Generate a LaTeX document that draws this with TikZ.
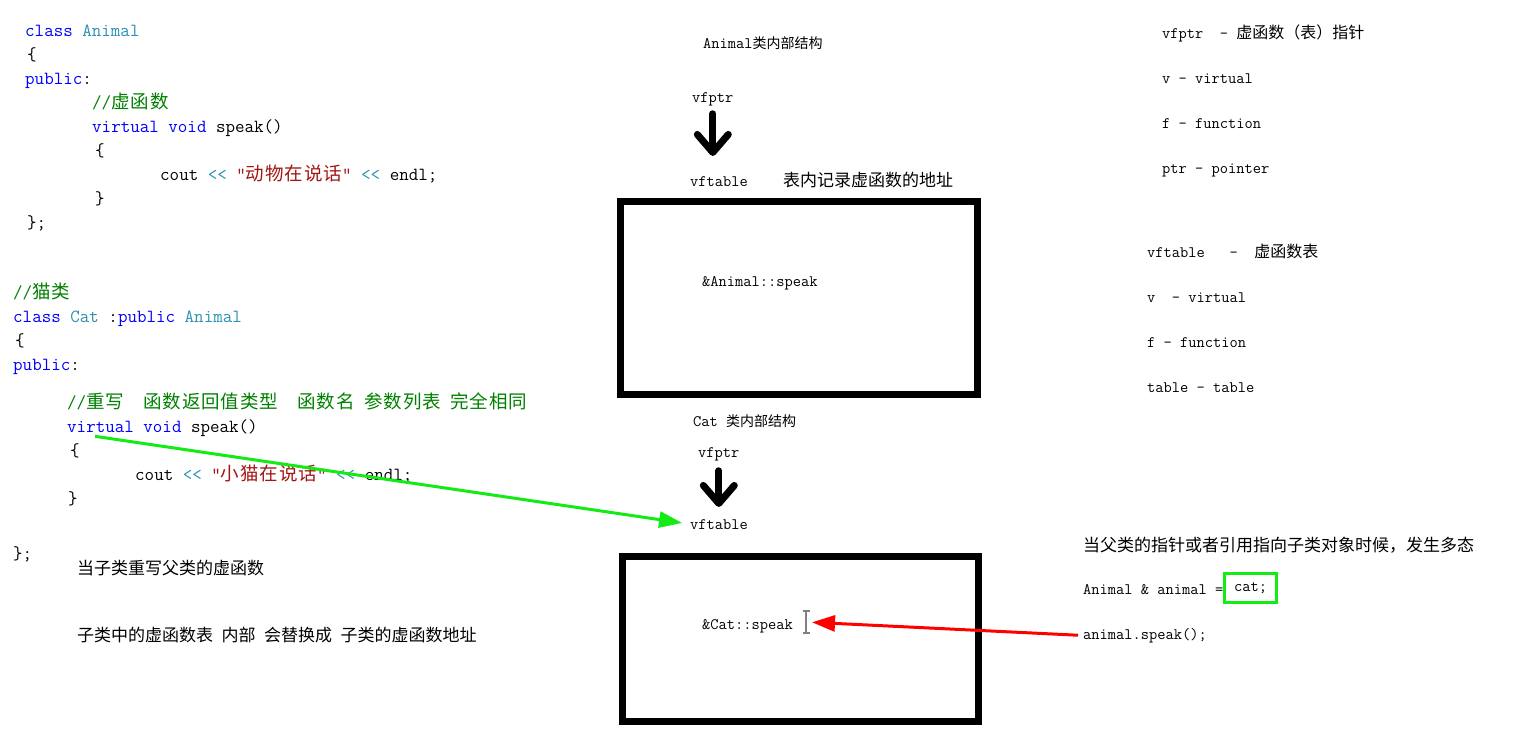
\documentclass[tikz,border=0pt]{standalone}
\usepackage{fontspec}
\newfontfamily\cjk{Noto Sans CJK SC}
\newfontfamily\cjkcode{Noto Sans CJK SC}[LetterSpace=5]
\usetikzlibrary{arrows.meta}

\definecolor{kwblue}{RGB}{0,0,255}
\definecolor{typeteal}{RGB}{43,145,175}
\definecolor{cmtgreen}{RGB}{0,128,0}
\definecolor{strred}{RGB}{163,21,21}
\definecolor{hlgreen}{RGB}{20,235,20}

\newcommand\zh[1]{{\cjk #1}}
\newcommand\zc[1]{{\cjkcode #1}}
\newcommand\zhs[1]{{\cjk\fontsize{14}{17}\selectfont #1}}
\newcommand\ckw[1]{\textcolor{kwblue}{#1}}
\newcommand\cty[1]{\textcolor{typeteal}{#1}}
\newcommand\ccm[1]{\textcolor{cmtgreen}{#1}}
\newcommand\cstr[1]{\textcolor{strred}{#1}}
\newcommand\cop{\textcolor{typeteal}{<\kern0pt<}}

\begin{document}
\begin{tikzpicture}[x=1pt,y=-1pt,
	codeline/.style={anchor=base west, inner sep=0pt, font=\ttfamily\fontsize{18.5}{22}\selectfont},
	gloss/.style={anchor=base west, inner sep=0pt, font=\ttfamily\fontsize{16}{19}\selectfont},
	zhtext/.style={anchor=base west, inner sep=0pt, font=\cjk\fontsize{17}{20}\selectfont},
	tablebox/.style={draw, line width=7pt, inner sep=0pt},
	fatarrow/.style={line width=7pt, line cap=round, -{Straight Barb[length=18pt,width=31pt,round]}},
	greenarrow/.style={hlgreen, line width=3pt, -{Triangle[length=23pt,width=16pt]}},
	redarrow/.style={red, line width=3pt, -{Triangle[length=23pt,width=16pt]}}]
	\useasboundingbox (0,0) rectangle (1517,745);

	% class Animal
	\node[codeline] (a1) at (25,36) {\ckw{class} \cty{Animal}};
	\node[codeline] (a2) at (27,60) {\{};
	\node[codeline] (a3) at (25,84) {\ckw{public}:};
	\node[codeline] (a4) at (92,108) {\ccm{//\zc{虚函数}}};
	\node[codeline] (a5) at (92,132) {\ckw{virtual} \ckw{void} speak()};
	\node[codeline] (a6) at (95,156) {\{};
	\node[codeline] (a7) at (160,180) {cout \cop{} \cstr{"\zc{动物在说话}"} \cop{} endl;};
	\node[codeline] (a8) at (95,204) {\}};
	\node[codeline] (a9) at (27,228) {\};};

	% class Cat
	\node[codeline] (b1) at (13,298) {\ccm{//\zc{猫类}}};
	\node[codeline] (b2) at (13,322) {\ckw{class} \cty{Cat} :\ckw{public} \cty{Animal}};
	\node[codeline] (b3) at (15,346) {\{};
	\node[codeline] (b4) at (13,370) {\ckw{public}:};
	\node[codeline] (b5) at (67,408) {\ccm{//\zc{重写}\ \ \zc{函数返回值类型}\ \ \zc{函数名}\ \zc{参数列表}\ \zc{完全相同}}};
	\node[codeline] (b6) at (67,432) {\ckw{virtual} \ckw{void} speak()};
	\node[codeline] (b7) at (70,456) {\{};
	\node[codeline] (b8) at (135,480) {cout \cop{} \cstr{"\zc{小猫在说话}"} \cop{} endl;};
	\node[codeline] (b9) at (68,504) {\}};
	\node[codeline] (b10) at (13,559) {\};};

	\node[zhtext] (n1) at (77,574) {当子类重写父类的虚函数};
	\node[zhtext] (n2) at (77,641) {子类中的虚函数表\enspace 内部\enspace 会替换成\enspace 子类的虚函数地址};

	% Animal layout
	\node[gloss] (h1) at (703,48) {Animal\zhs{类内部结构}};
	\node[gloss] (vp1) at (692,102) {vfptr};
	\node[gloss] (vt1) at (690,186) {vftable};
	\node[zhtext] (m1) at (783,186) {表内记录虚函数的地址};
	\node[tablebox, minimum width=357pt, minimum height=193pt] (tab1) at (799,298) {};
	\node[gloss] (s1) at (702,286) {\&Animal::speak};
	\draw[fatarrow, shorten <=8pt, shorten >=20pt] (vp1.south) -- (vp1.south |- vt1.north);

	% Cat layout
	\node[gloss] (h2) at (693,426) {Cat \zhs{类内部结构}};
	\node[gloss] (vp2) at (698,457) {vfptr};
	\node[gloss] (vt2) at (690,529) {vftable};
	\node[tablebox, minimum width=356pt, minimum height=165pt] (tab2) at (800.5,639) {};
	\node[gloss] (s2) at (702,629) {\&Cat::speak};
	\draw[fatarrow, shorten <=10pt, shorten >=12pt] (vp2.south) -- (vp2.south |- vt2.north);

	% text cursor
	\coordinate (ibeam) at (806,622);
	\draw[gray, line width=1.2pt] (802.5,611) -- (809.5,611) (806,611) -- (806,633) (802.5,633) -- (809.5,633);

	% glossary
	\node[gloss] (r1) at (1162,38) {vfptr\ \ -\ \zh{虚函数（表）指针}};
	\node[gloss] (r2) at (1162,83) {v - virtual};
	\node[gloss] (r3) at (1162,128) {f - function};
	\node[gloss] (r4) at (1162,173) {ptr - pointer};
	\node[gloss] (r5) at (1147,257) {vftable\ \ \ -\ \ \zh{虚函数表}};
	\node[gloss] (r6) at (1147,302) {v\ \ - virtual};
	\node[gloss] (r7) at (1147,347) {f - function};
	\node[gloss] (r8) at (1147,392) {table - table};

	% polymorphism
	\node[zhtext] (p1) at (1083,551) {当父类的指针或者引用指向子类对象时候，发生多态};
	\node[gloss] (p2) at (1083,594) {Animal \& animal =};
	\node[draw=hlgreen, line width=3pt, minimum width=52pt, minimum height=29pt, inner sep=0pt,
		font=\ttfamily\fontsize{16}{19}\selectfont] (cat) at (1250.5,588) {cat;};
	\node[gloss] (p3) at (1083,639) {animal.speak();};

	\draw[greenarrow, shorten >=8pt] ([xshift=28pt]b6.south west) -- (vt2.west);
	\draw[redarrow, shorten >=6pt] ([xshift=-5pt]p3.west) -- (ibeam);
\end{tikzpicture}
\end{document}
